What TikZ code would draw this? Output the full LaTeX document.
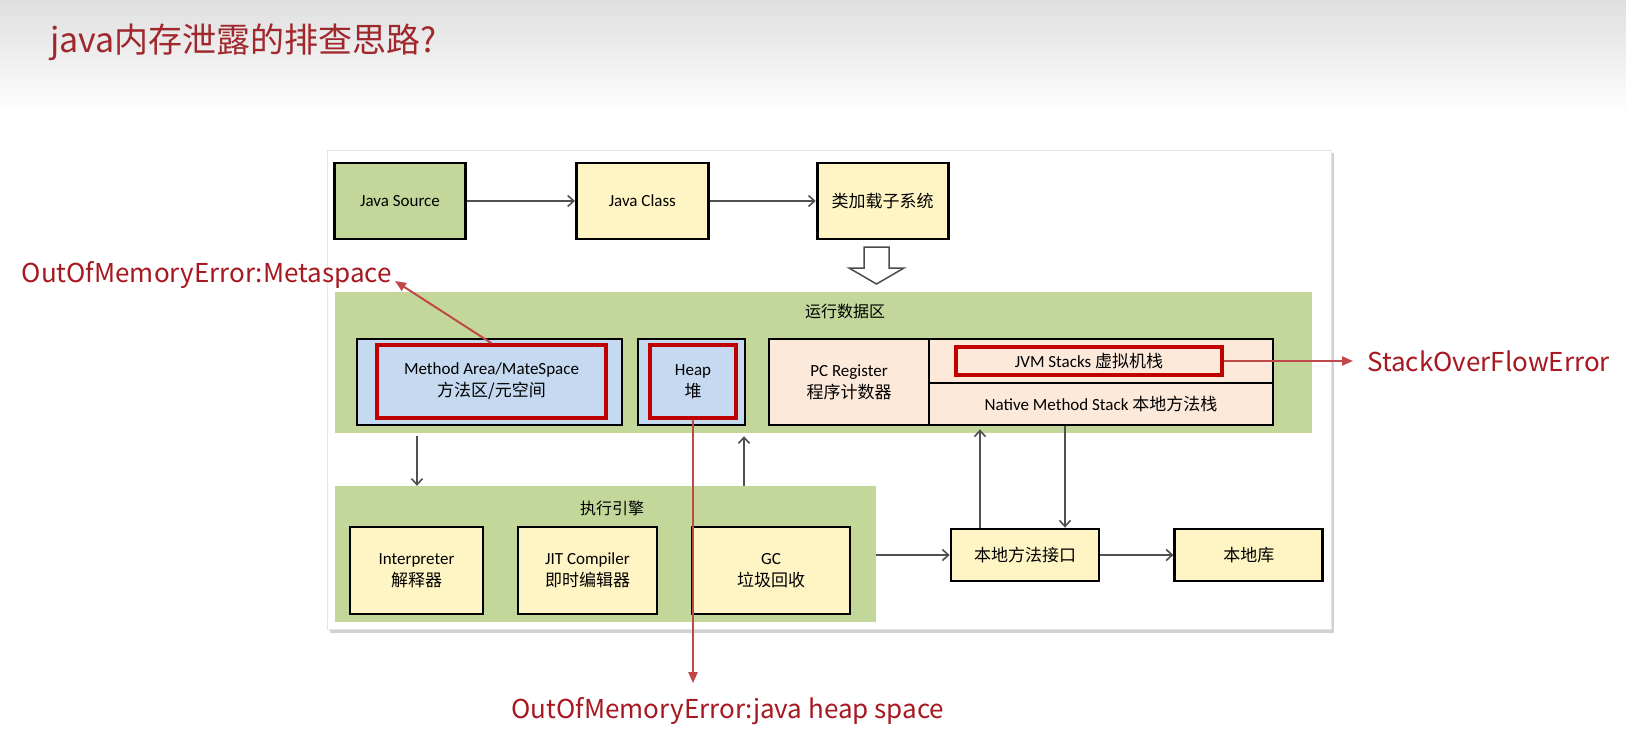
\documentclass[tikz,border=0pt]{standalone}
\usepackage{fontspec}
\setmainfont{Carlito}
\newfontfamily\cjk{Noto Sans CJK SC}
\usetikzlibrary{positioning,calc,arrows.meta}
\definecolor{boxgreen}{RGB}{196,215,155}
\definecolor{boxyellow}{RGB}{255,245,196}
\definecolor{boxblue}{RGB}{197,217,241}
\definecolor{boxpink}{RGB}{253,233,217}
\definecolor{errred}{RGB}{168,24,32}
\definecolor{linered}{RGB}{192,0,0}
\definecolor{arrred}{RGB}{192,72,72}
\definecolor{darkline}{RGB}{80,80,80}

\begin{document}
\begin{tikzpicture}[x=1pt, y=-1pt,
		box/.style={rectangle, draw=black, line width=2.8pt, fill=boxyellow, align=center, inner sep=0pt, font=\fontsize{17}{22}\selectfont},
		redbox/.style={rectangle, draw=linered, line width=3.5pt, align=center, inner sep=0pt, font=\fontsize{17}{22}\selectfont},
		band/.style={rectangle, fill=boxgreen, inner sep=0pt},
		bandlabel/.style={font=\cjk\fontsize{16}{20}\selectfont},
		conn/.style={-{Straight Barb[length=6pt,width=11pt]}, draw=darkline, line width=1.6pt},
		errarr/.style={-{Triangle[length=11pt,width=9pt]}, draw=arrred, line width=2pt},
		errtext/.style={text=errred, inner sep=0pt, font=\cjk\fontsize{26}{31}\selectfont}]
	\useasboundingbox (0,0) rectangle (1626,750);
	\fill[white] (0,0) rectangle (1626,750);
	% Intestazione
	\shade[top color=gray!25, bottom color=white] (0,0) rectangle (1626,115);
	\node[anchor=west, text={rgb,255:red,160;green,40;blue,45}, inner sep=0pt, font=\cjk\fontsize{34}{40}\selectfont] (title) at (50,42) {java内存泄露的排查思路?};
	
	% Pannello
	\fill[gray!35] (330,153) rectangle (1334,633);
	\filldraw[fill=white, draw=gray!20] (327,150) rectangle (1331,629);
	
	% Caricamento classi
	\node[box, fill=boxgreen, minimum width=131pt, minimum height=76pt] (jsrc) at (400,201) {Java Source};
	\node[box, minimum width=132pt, minimum height=76pt, right=108pt of jsrc] (jcls) {Java Class};
	\node[box, minimum width=131pt, minimum height=76pt, right=106pt of jcls] (cls) {{\cjk 类加载子系统}};
	\draw[conn] (jsrc) -- (jcls);
	\draw[conn] (jcls) -- (cls);
	\filldraw[fill=white, draw=gray!60!black, line width=1.5pt] (864,247) -- (889,247) -- (889,268) -- (904,268) -- (876.5,284) -- (849,268) -- (864,268) -- cycle;
	
	% Area dati di runtime
	\node[band, minimum width=977pt, minimum height=141pt] (rda) at (823.5,362.5) {};
	\node[bandlabel] (rdalbl) at (845,311) {运行数据区};
	\node[box, fill=boxblue, minimum width=265pt, minimum height=86pt] (ma) at (489.5,382) {};
	\node[redbox, minimum width=229pt, minimum height=73pt] (mai) at (491.5,381.5) {Method Area/MateSpace\\{\cjk 方法区/元空间}};
	\node[box, fill=boxblue, minimum width=107pt, minimum height=86pt] (heap) at (691.5,382) {};
	\node[redbox, minimum width=86pt, minimum height=73pt] (heapi) at (693,381.5) {Heap\\{\cjk 堆}};
	\node[box, fill=boxpink, minimum width=160pt, minimum height=86pt] (pc) at (849,382) {PC Register\\{\cjk 程序计数器}};
	\node[box, fill=boxpink, minimum width=344pt, minimum height=44pt] (jvms) at (1101,361) {};
	\node[box, fill=boxpink, minimum width=344pt, minimum height=42pt] (nms) at (1101,404) {Native Method Stack {\cjk 本地方法栈}};
	\node[redbox, minimum width=266pt, minimum height=28pt] (jvmi) at (1089,361) {JVM Stacks {\cjk 虚拟机栈}};
	
	% Motore di esecuzione
	\node[band, minimum width=541pt, minimum height=136pt] (engine) at (605.5,554) {};
	\node[bandlabel] (englbl) at (612,508) {执行引擎};
	\node[box, minimum width=133pt, minimum height=87pt] (interp) at (416.5,570.5) {Interpreter\\{\cjk 解释器}};
	\node[box, minimum width=139pt, minimum height=87pt] (jit) at (587.5,570.5) {JIT Compiler\\{\cjk 即时编辑器}};
	\node[box, minimum width=158pt, minimum height=87pt] (gc) at (771,570.5) {GC\\{\cjk 垃圾回收}};
	
	% Interfaccia nativa
	\node[box, minimum width=148pt, minimum height=52pt] (jni) at (1025,555) {{\cjk 本地方法接口}};
	\node[box, minimum width=148pt, minimum height=52pt, right=73pt of jni] (lib) {{\cjk 本地库}};
	
	\coordinate (mdown) at (417,0);
	\coordinate (gup) at (744,0);
	\coordinate (nup) at (980,0);
	\coordinate (ndown) at (1065,0);
	\draw[conn] ($(rda.south -| mdown)+(0,3)$) -- (engine.north -| mdown);
	\draw[conn] (engine.north -| gup) -- ($(rda.south -| gup)+(0,3)$);
	\draw[conn] (engine.east |- jni) -- (jni.west);
	\draw[conn] (jni) -- (lib);
	\draw[conn] (jni.north -| nup) -- ($(nms.south -| nup)+(0,3)$);
	\draw[conn] (nms.south -| ndown) -- (jni.north -| ndown);
	
	% Errori
	\node[errtext, anchor=east] (meta) at (392,275) {OutOfMemoryError:Metaspace};
	\node[errtext] (oomh) at (728,711) {OutOfMemoryError:java heap space};
	\node[errtext, anchor=west] (soe) at (1367,361) {StackOverFlowError};
	\draw[errarr] (mai.north) -- ($(meta.east)+(3,6)$);
	\draw[errarr] (heapi.south) -- ($(heapi.south |- oomh.north)+(0,-14)$);
	\draw[errarr] (jvmi.east) -- ($(jvmi.east -| soe.west)+(-14,0)$);
\end{tikzpicture}
\end{document}
